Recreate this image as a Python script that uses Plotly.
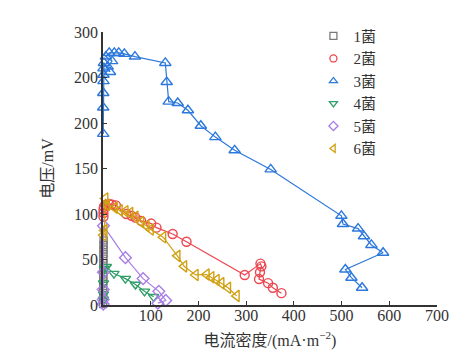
import plotly.graph_objects as go

# ---- data ----
s1_x = [0.3, 0.5, 0.4, 0.6, 0.5, 0.7, 0.6, 0.8, 0.7, 0.9, 0.8, 1.0, 1.1, 1.2, 1.3]
s1_y = [1, 6, 11, 16, 21, 26, 31, 36, 41, 46, 51, 56, 61, 66, 71]

s2_x = [1, 1, 1, 2, 5, 12, 18, 27, 49, 60, 68, 80, 101, 112, 146, 175, 297, 330, 332, 329, 327, 346, 356, 374]
s2_y = [97, 101, 105, 108, 110, 111, 110.5, 109.5, 100, 98, 96, 92.5, 89.5, 85, 78, 69.5, 33, 45.5, 42.5, 36, 28.5, 24, 19, 13]

s3_x = [0.5, 0.5, 0.5, 1, 1, 1, 2, 14.7, 9.8, 18.9, 6, 13, 23.7, 33, 44.7, 67, 130.6, 133.5, 137.7, 156.6,
        178, 205, 235.5, 276, 351.5, 499.6, 503, 534.6, 547, 562.5, 587, 508, 520.6, 543]
s3_y = [188, 217, 233, 246, 253, 260, 266, 256, 262, 268, 273, 277, 277, 277, 276, 273, 266, 245, 223.5, 222,
        214, 197, 184.5, 170, 149, 98, 89, 84, 75.5, 66, 57.4, 39, 30, 19]

s4_x = [1, 1, 1, 3, 7, 23, 47, 68, 87, 106]
s4_y = [6, 12, 24, 40, 42, 34.5, 29, 22.5, 15, 9]

s5_x = [0.5, 0.5, 0.5, 0.8, 1, 47, 84, 117, 131.5, 115]
s5_y = [1, 6, 17, 36, 87, 52, 29, 15, 5, 2]

s6_x = [1, 3, 4.8, 8, 24.5, 35, 47, 57, 68, 80, 91, 100, 126, 156, 170, 194, 217, 227, 238, 248, 262, 280]
s6_y = [77, 82, 117, 110, 107, 104, 103, 101, 97, 91, 87, 83, 74.5, 54, 42.5, 33, 33.5, 30.5, 27.5, 24, 19, 10]

names = ["1菌", "2菌", "3菌", "4菌", "5菌", "6菌"]
xs = [s1_x, s2_x, s3_x, s4_x, s5_x, s6_x]
ys = [s1_y, s2_y, s3_y, s4_y, s5_y, s6_y]

x_ticks = [100, 200, 300, 400, 500, 600, 700]
y_ticks = [0, 50, 100, 150, 200, 250, 300]
y_ticktext = ["0", "50", "100", "150", "200", "200", "300"]

# ---- styles ----
colors = ["#7a7a7a", "#ec4650", "#2c78dc", "#2f9e68", "#a87ee6", "#d1a012"]
symbols = ["square-open", "circle-open", "triangle-up-open", "triangle-down-open", "diamond-open", "triangle-left-open"]
sizes = [7, 9, 10, 9, 9, 10]

FONT = "Liberation Serif, Noto Sans CJK SC, serif"

fig = go.Figure()
for n, x, y, c, s, sz in zip(names, xs, ys, colors, symbols, sizes):
    fig.add_trace(go.Scatter(
        x=x, y=y, mode="lines+markers", name=n, showlegend=False,
        line=dict(color=c, width=1.2),
        marker=dict(symbol=s, size=sz, color=c, line=dict(width=1.4, color=c)),
        cliponaxis=False,
    ))
for n, c, s in zip(names, colors, symbols):
    fig.add_trace(go.Scatter(
        x=[None], y=[None], mode="markers", name=n,
        marker=dict(symbol=s, size=7, color=c, line=dict(width=1.3, color=c)),
    ))

fig.update_layout(
    width=476, height=357,
    margin=dict(l=95, r=47, t=20, b=60),
    paper_bgcolor="white", plot_bgcolor="white",
    font=dict(family=FONT, size=15, color="#333"),
    legend=dict(x=0.63, y=1.045, xanchor="left", yanchor="top",
                bgcolor="rgba(0,0,0,0)", font=dict(family=FONT, size=15, color="#333"),
                itemwidth=30, tracegroupgap=0),
    xaxis=dict(range=[0, 700], tickvals=x_ticks, showgrid=False, zeroline=False,
               showline=True, linecolor="#333", linewidth=1.5,
               ticks="inside", ticklen=4, tickcolor="#333", tickwidth=1.2,
               ticklabelstandoff=-5,
               tickfont=dict(family=FONT, size=16, color="#333"),
               title=dict(text="电流密度/(mA·m<sup>−2</sup>)", font=dict(family=FONT, size=16, color="#333"), standoff=12)),
    yaxis=dict(range=[0, 300], tickvals=y_ticks, ticktext=y_ticktext, showgrid=False, zeroline=False,
               showline=True, linecolor="#333", linewidth=1.5,
               ticks="inside", ticklen=4, tickcolor="#333", tickwidth=1.2,
               tickfont=dict(family=FONT, size=16, color="#333"),
               title=dict(text="电压/mV", font=dict(family=FONT, size=16, color="#333"), standoff=16)),
)

fig.write_html("out.html")
